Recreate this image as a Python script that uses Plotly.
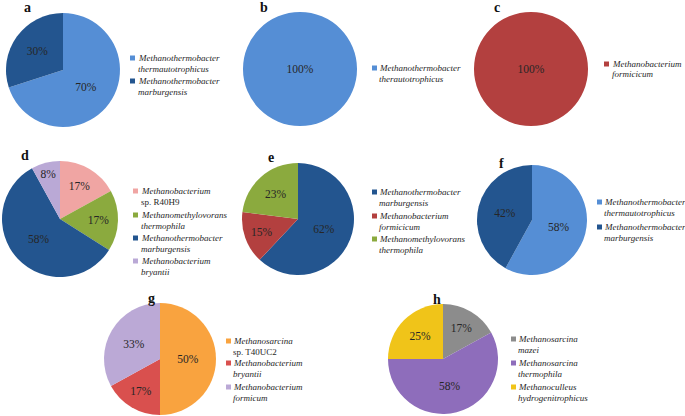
import plotly.graph_objects as go

W, H = 685, 416

# ---- data ----
panel_ids = ["a", "b", "c", "d", "e", "f", "g", "h"]

labels_a = ["<i>Methanothermobacter</i><br><i>thermautotrophicus</i>", "<i>Methanothermobacter</i><br><i>marburgensis</i>"]
values_a = [70, 30]
colors_a = ["#558ED5", "#23558F"]

labels_b = ["<i>Methanothermobacter</i><br><i>therautotrophicus</i>"]
values_b = [100]
colors_b = ["#558ED5"]

labels_c = ["<i>Methanobacterium</i><br><i>formicicum</i>"]
values_c = [100]
colors_c = ["#B3403F"]

labels_d = ["<i>Methanobacterium</i><br>sp. R40H9", "<i>Methanomethylovorans</i><br><i>thermophila</i>",
            "<i>Methanothermobacter</i><br><i>marburgensis</i>", "<i>Methanobacterium</i><br><i>bryantii</i>"]
values_d = [17, 17, 58, 8]
colors_d = ["#F0A5A3", "#8BAA3E", "#23558F", "#BAA9D6"]

labels_e = ["<i>Methanothermobacter</i><br><i>marburgensis</i>", "<i>Methanobacterium</i><br><i>formicicum</i>",
            "<i>Methanomethylovorans</i><br><i>thermophila</i>"]
values_e = [62, 15, 23]
colors_e = ["#23558F", "#B3403F", "#8BAA3E"]

labels_f = ["<i>Methanothermobacter</i><br><i>thermautotrophicus</i>", "<i>Methanothermobacter</i><br><i>marburgensis</i>"]
values_f = [58, 42]
colors_f = ["#558ED5", "#23558F"]

labels_g = ["<i>Methanosarcina</i><br>sp. T40UC2", "<i>Methanobacterium</i><br><i>bryantii</i>",
            "<i>Methanobacterium</i><br><i>formicum</i>"]
values_g = [50, 17, 33]
colors_g = ["#F9A33F", "#D9504E", "#BBA9D6"]

labels_h = ["<i>Methanosarcina</i><br><i>mazei</i>", "<i>Methanosarcina</i><br><i>thermophila</i>",
            "<i>Methanoculleus</i><br><i>hydrogenitrophicus</i>"]
values_h = [17, 58, 25]
colors_h = ["#8C8C8C", "#8E6DBB", "#F0C419"]

all_labels = [labels_a, labels_b, labels_c, labels_d, labels_e, labels_f, labels_g, labels_h]
all_values = [values_a, values_b, values_c, values_d, values_e, values_f, values_g, values_h]
all_colors = [colors_a, colors_b, colors_c, colors_d, colors_e, colors_f, colors_g, colors_h]

# ---- layout (pixels) ----
centers = [(63, 70, 57), (300, 69, 57), (531, 69, 57),
           (60, 219, 58), (298, 219, 56), (532, 220, 55),
           (160, 359, 56), (443, 359, 55)]
# legend: (marker left x, text left x, first-line y of each item)
legend_layout = [
    (130, 136, [58, 81]),
    (372, 377, [68]),
    (604, 610, [64]),
    (133, 139, [191, 215, 238, 261]),
    (372, 377, [192, 216, 239]),
    (597, 602, [202, 227]),
    (226, 231, [341, 363, 387]),
    (511, 516, [339, 363, 387]),
]
LINE_GAP = 10.5
MARK = 5
letter_pos = [(27, 7), (264, 7), (497, 7), (25, 155), (271, 157), (501, 163), (151, 298), (437, 299)]

SERIF = "Liberation Serif, Times New Roman, serif"
TXT = "#262626"

def px(x):
    return x / W

def py(y):
    return 1 - y / H

fig = go.Figure()
for i, pid in enumerate(panel_ids):
    cx, cy, r = centers[i]
    fig.add_trace(go.Pie(
        labels=all_labels[i], values=all_values[i],
        marker=dict(colors=all_colors[i], line=dict(width=0)),
        sort=False, direction="clockwise", rotation=0,
        texttemplate="%{value}%", textposition="inside",
        insidetextorientation="horizontal",
        textfont=dict(family=SERIF, size=11.5, color=TXT),
        domain=dict(x=[px(cx - r), px(cx + r)], y=[py(cy + r), py(cy - r)]),
        showlegend=False, hoverinfo="label+percent",
    ))
    # legend drawn from the label / colour arrays
    mx, tx, ys = legend_layout[i]
    for lab, col, y0 in zip(all_labels[i], all_colors[i], ys):
        fig.add_shape(type="rect", xref="paper", yref="paper",
                      x0=px(mx), x1=px(mx + MARK), y0=py(y0 - MARK / 2), y1=py(y0 + MARK / 2),
                      fillcolor=col, line=dict(width=0))
        for k, line in enumerate(lab.split("<br>")):
            fig.add_annotation(
                x=px(tx), y=py(y0 + k * LINE_GAP), xref="paper", yref="paper",
                text=line, showarrow=False, xanchor="left", yanchor="middle",
                font=dict(family=SERIF, size=9, color=TXT),
            )
    fig.add_annotation(
        x=px(letter_pos[i][0]), y=py(letter_pos[i][1]), xref="paper", yref="paper",
        text=f"<b>{pid}</b>", showarrow=False, xanchor="center", yanchor="middle",
        font=dict(family=SERIF, size=14, color="#111111"),
    )

fig.update_layout(
    width=W, height=H, margin=dict(l=0, r=0, t=0, b=0),
    paper_bgcolor="white", plot_bgcolor="white", showlegend=False,
)

fig.write_html("out.html", config={"displayModeBar": False},
               post_script="document.body.style.margin='0';document.body.style.overflow='hidden';")
